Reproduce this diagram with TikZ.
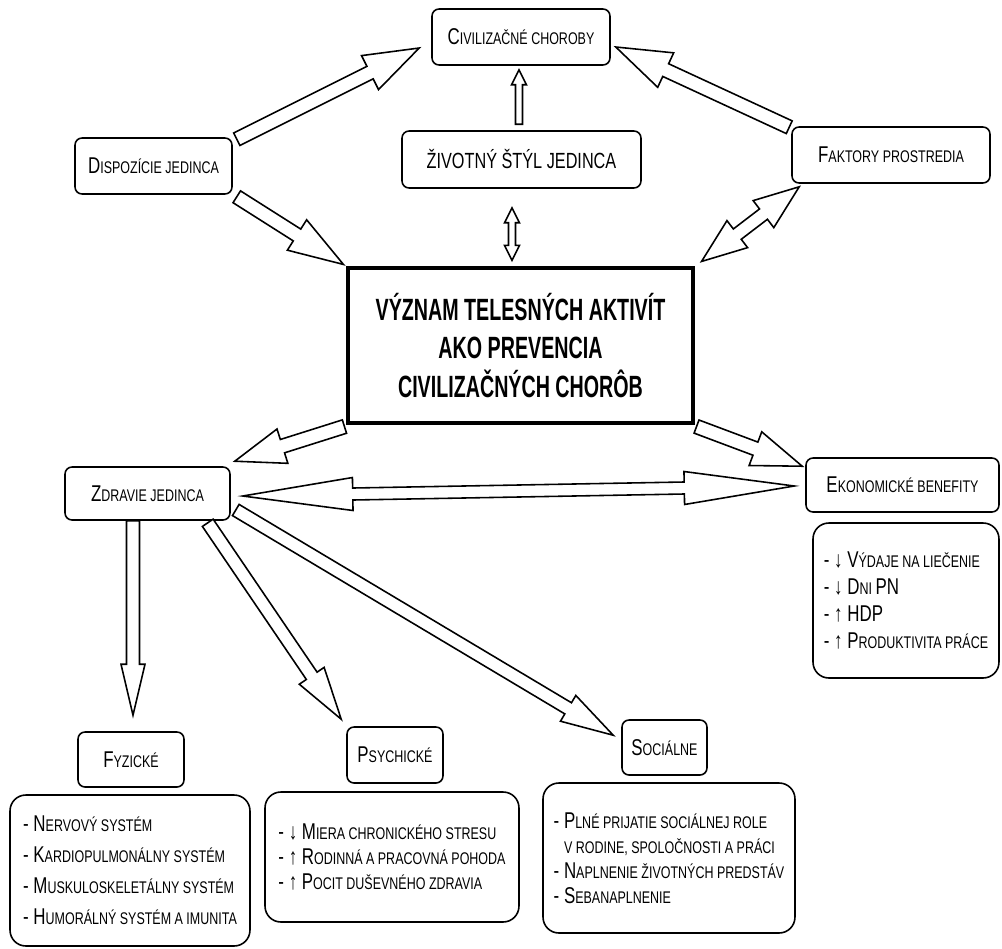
\documentclass[tikz,border=0pt]{standalone}
\usepackage{fontspec}
\setmainfont{Liberation Sans}
\newfontfamily\uzke[FakeStretch=0.74]{Liberation Sans}
\newfontfamily\hlavne[FakeStretch=0.64]{Liberation Sans}
\usetikzlibrary{calc}

\newcommand{\velke}[1]{{\fontsize{13}{13}\selectfont #1}}

% #1 odkial, #2 kam, #3 polovica drieku, #4 polovica hrotu, #5 dlzka hrotu
\newcommand{\sipka}[5]{%
  \path (#1) coordinate (sA) (#2) coordinate (sB) ($(#2)!#5!(#1)$) coordinate (sH);
  \draw[sipkaciara] ($(sA)!#3!90:(sB)$) -- ($(sH)!#3!-90:(sA)$) -- ($(sH)!#4!-90:(sA)$) -- (sB)
    -- ($(sH)!#4!90:(sA)$) -- ($(sH)!#3!90:(sA)$) -- ($(sA)!#3!-90:(sB)$) -- cycle;}
\newcommand{\dvojsipka}[5]{%
  \path (#1) coordinate (sA) (#2) coordinate (sB) ($(#2)!#5!(#1)$) coordinate (sH)
    ($(#1)!#5!(#2)$) coordinate (sT);
  \draw[sipkaciara] (sA) -- ($(sT)!#4!90:(sB)$) -- ($(sT)!#3!90:(sB)$) -- ($(sH)!#3!-90:(sA)$)
    -- ($(sH)!#4!-90:(sA)$) -- (sB) -- ($(sH)!#4!90:(sA)$) -- ($(sH)!#3!90:(sA)$)
    -- ($(sT)!#3!-90:(sB)$) -- ($(sT)!#4!-90:(sB)$) -- cycle;}

\tikzset{
  okno/.style={draw, rounded corners=4pt, line width=0.9pt, inner sep=0pt,
    font=\uzke\fontsize{9.6}{11}\selectfont},
  zoznam/.style={draw, rounded corners=9pt, line width=0.9pt, inner sep=0pt, align=left},
  hlavny/.style={draw, line width=1.8pt, inner sep=0pt, align=center,
    font=\hlavne\bfseries\fontsize{17.5}{22}\selectfont},
  sipkaciara/.style={line width=0.9pt, line join=miter, fill=white}
}

\begin{document}
\begin{tikzpicture}[x=0.02cm, y=-0.02cm]
\useasboundingbox (0,0) rectangle (1002,948);

% horny rad
\node[okno, minimum width=3.56cm, minimum height=1.12cm] (civ) at (521,37) {\velke{C}IVILIZAČNÉ CHOROBY};
\node[okno, minimum width=3.14cm, minimum height=1.12cm] (disp) at (153.5,166) {\velke{D}ISPOZÍCIE JEDINCA};
\node[okno, minimum width=4.78cm, minimum height=1.14cm, font=\uzke\fontsize{12.5}{13}\selectfont] (zivot) at (521.5,159.5) {ŽIVOTNÝ ŠTÝL JEDINCA};
\node[okno, minimum width=3.96cm, minimum height=1.12cm] (fakt) at (891,155) {\velke{F}AKTORY PROSTREDIA};

% stred
\node[hlavny, minimum width=6.9cm, minimum height=3.1cm] (vyznam) at (520.5,345.5) {VÝZNAM TELESNÝCH AKTIVÍT\\AKO PREVENCIA\\CIVILIZAČNÝCH CHORÔB};

\node[okno, minimum width=3.3cm, minimum height=1.06cm] (zdr) at (147.5,493.5) {\velke{Z}DRAVIE JEDINCA};
\node[okno, minimum width=3.86cm, minimum height=1.08cm] (ekon) at (902.5,485) {\velke{E}KONOMICKÉ BENEFITY};
\node[zoznam, minimum width=3.72cm, minimum height=3.1cm, font=\uzke\fontsize{9.6}{15.3}\selectfont] (ekonz) at (906,600.5)
  {\velke{- ↓ V}ÝDAJE NA LIEČENIE\\\velke{- ↓ D}NI \velke{PN}\\\velke{- ↑ HDP}\\\velke{- ↑ P}RODUKTIVITA PRÁCE};

% spodny rad
\node[okno, minimum width=2.12cm, minimum height=1.1cm] (fyz) at (131,759.5) {\velke{F}YZICKÉ};
\node[zoznam, minimum width=4.8cm, minimum height=3.02cm, font=\uzke\fontsize{9.6}{17.6}\selectfont] (fyzz) at (130,870.5)
  {\velke{- N}ERVOVÝ SYSTÉM\\\velke{- K}ARDIOPULMONÁLNY SYSTÉM\\\velke{- M}USKULOSKELETÁLNY SYSTÉM\\\velke{- H}UMORÁLNÝ SYSTÉM A IMUNITA};
\node[okno, minimum width=1.92cm, minimum height=1.12cm] (psych) at (395,755) {\velke{P}SYCHICKÉ};
\node[zoznam, minimum width=5.08cm, minimum height=2.6cm, font=\uzke\fontsize{9.6}{14.2}\selectfont] (psychz) at (392,857)
  {\velke{- ↓ M}IERA CHRONICKÉHO STRESU\\\velke{- ↑ R}ODINNÁ A PRACOVNÁ POHODA\\\velke{- ↑ P}OCIT DUŠEVNÉHO ZDRAVIA};
\node[okno, minimum width=1.7cm, minimum height=1.1cm] (soc) at (664.5,747.5) {\velke{S}OCIÁLNE};
\node[zoznam, minimum width=5.04cm, minimum height=3.0cm, font=\uzke\fontsize{9.6}{14.2}\selectfont] (socz) at (669,858)
  {\velke{- P}LNÉ PRIJATIE SOCIÁLNEJ ROLE\\\velke{\hphantom{-} }V RODINE, SPOLOČNOSTI A PRÁCI\\\velke{- N}APLNENIE ŽIVOTNÝCH PREDSTÁV\\\velke{- S}EBANAPLNENIE};

% konce sipok
\coordinate (a1) at ($(disp.north east)+(4,2)$);
\coordinate (b1) at ($(civ.west)+(-12,11)$);
\coordinate (a2) at ($(fakt.north west)+(-2,1)$);
\coordinate (b2) at ($(civ.east)+(5,10)$);
\coordinate (a3) at ($(zivot.north)+(-2.5,-6)$);
\coordinate (b3) at ($(civ.south)+(-2,4)$);
\coordinate (a4) at ($(zivot.south)+(-9.5,19)$);
\coordinate (b4) at ($(vyznam.north)+(-8.5,-6)$);
\coordinate (a5) at ($(disp.south east)+(4,2)$);
\coordinate (b5) at ($(vyznam.north west)+(-3,-2)$);
\coordinate (a6) at ($(fakt.south west)+(8,3)$);
\coordinate (b6) at ($(vyznam.north east)+(7,-5)$);
\coordinate (a7) at ($(vyznam.south west)+(-2,2)$);
\coordinate (b7) at ($(zdr.north east)+(4,-5)$);
\coordinate (a8) at ($(vyznam.south east)+(2,2)$);
\coordinate (b8) at ($(ekon.north west)+(-3,9)$);
\coordinate (a9) at ($(zdr.east)+(12,2.5)$);
\coordinate (b9) at ($(ekon.west)+(-11,1)$);
\coordinate (a10) at ($(zdr.south)+(-14.5,0)$);
\coordinate (b10) at ($(fyz.north)+(2,-16)$);
\coordinate (a11) at ($(zdr.south east)+(-23,2)$);
\coordinate (b11) at ($(psych.north west)+(-5,-7)$);
\coordinate (a12) at ($(zdr.east)+(5,16.5)$);
\coordinate (b12) at ($(soc.north west)+(-8,16)$);

\sipka{a1}{b1}{0.14cm}{0.38cm}{1.1cm}
\sipka{a2}{b2}{0.14cm}{0.38cm}{1.1cm}
\sipka{a3}{b3}{0.07cm}{0.15cm}{0.3cm}
\dvojsipka{a4}{b4}{0.07cm}{0.15cm}{0.3cm}
\sipka{a5}{b5}{0.14cm}{0.36cm}{1.1cm}
\dvojsipka{a6}{b6}{0.13cm}{0.34cm}{0.9cm}
\sipka{a7}{b7}{0.14cm}{0.36cm}{1cm}
\sipka{a8}{b8}{0.14cm}{0.36cm}{1cm}
\dvojsipka{a9}{b9}{0.12cm}{0.33cm}{2.2cm}
\sipka{a10}{b10}{0.13cm}{0.24cm}{1.02cm}
\sipka{a11}{b11}{0.13cm}{0.3cm}{1.05cm}
\sipka{a12}{b12}{0.13cm}{0.3cm}{1.05cm}

\end{tikzpicture}
\end{document}
